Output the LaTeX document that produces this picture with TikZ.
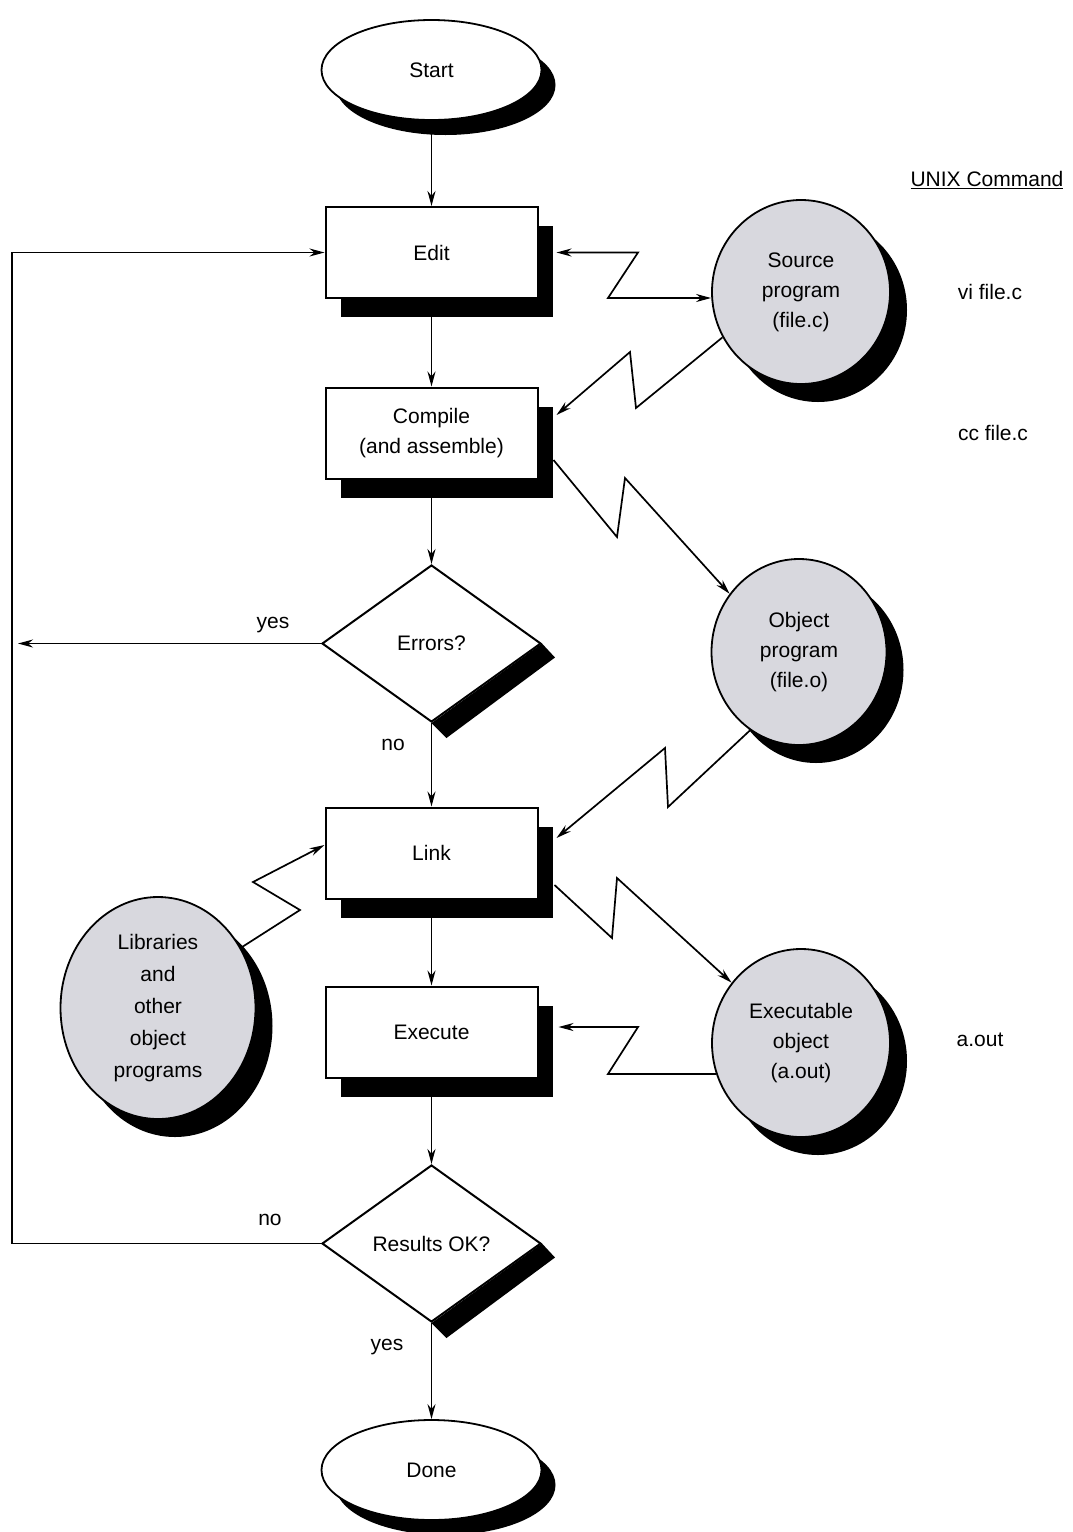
\documentclass[tikz,border=0pt]{standalone}
\usepackage{fontspec}
\setmainfont{Liberation Sans}
\usetikzlibrary{shapes.geometric,arrows.meta,shadows}
\definecolor{cgray}{RGB}{216,216,222}
\begin{document}
\begin{tikzpicture}[x=1pt,y=-1pt,
  every node/.style={font=\fontsize{21}{30}\selectfont, align=center, inner sep=0pt},
  box/.style={draw, line width=2pt, fill=white, minimum width=212pt, minimum height=91pt,
    drop shadow={shadow xshift=15pt, shadow yshift=-19pt, opacity=1, fill=black}},
  term/.style={ellipse, draw, line width=1.8pt, fill=white, minimum width=220pt, minimum height=100pt,
    drop shadow={shadow xshift=14pt, shadow yshift=-15pt, opacity=1, fill=black}},
  dec/.style={diamond, draw, line width=2pt, fill=white, minimum width=219pt, minimum height=157pt, aspect=1.4},
  store/.style={ellipse, draw, line width=1.8pt, fill=cgray,
    drop shadow={shadow xshift=17pt, shadow yshift=-18pt, opacity=1, fill=black}},
  arr/.style={line width=1.7pt, -{Stealth[length=15pt,width=8pt]}},
  arrb/.style={line width=1.7pt, {Stealth[length=15pt,width=8pt]}-{Stealth[length=15pt,width=8pt]}}
]
\fill[white] (0,0) rectangle (1073,1532);
\useasboundingbox (0,0) rectangle (1073,1532);

% main flow
\node[term] (start) at (431.5,70) {Start};
\node[box] (edit) at (431.5,252.5) {Edit};
\node[box] (comp) at (431.5,433) {Compile\\(and assemble)};
\node[dec] (err) at (431.5,643.5) {Errors?};
\node[box] (link) at (431.5,853) {Link};
\node[box] (exec) at (431.5,1032) {Execute};
\node[dec] (res) at (431.5,1243.5) {Results OK?};
\node[term] (done) at (431.5,1470) {Done};

% diamond shadows
\fill (err.east) -- ([shift={(13pt,-14pt)}]err.east) -- ([shift={(15pt,-15pt)}]err.south) -- (err.south) -- cycle;
\fill (res.east) -- ([shift={(13pt,-14pt)}]res.east) -- ([shift={(15pt,-15pt)}]res.south) -- (res.south) -- cycle;

% files
\node[store, minimum width=178pt, minimum height=184pt] (src) at (801,292) {Source\\program\\(file.c)};
\node[store, minimum width=175pt, minimum height=186pt] (obj) at (799,652) {Object\\program\\(file.o)};
\node[store, minimum width=178pt, minimum height=188pt] (exo) at (801,1043) {Executable\\object\\(a.out)};
\node[store, minimum width=195pt, minimum height=222pt, font=\fontsize{21}{32}\selectfont] (lib) at (158,1008) {Libraries\\and\\other\\object\\programs};

% labels
\node (yes1) at (273,625) {yes};
\node (no1) at (393,745) {no};
\node (no2) at (270,1220) {no};
\node (yes2) at (387,1347) {yes};
\node (unix) at (987,180) {\underline{UNIX Command}};
\node (c1) at (990,292) {vi file.c};
\node (c2) at (993,433) {cc file.c};
\node (c3) at (980,1040) {a.out};

% vertical flow
\draw[arr] (start) -- (edit);
\draw[arr] (edit) -- (comp);
\draw[arr] (comp) -- (err);
\draw[arr] (err) -- (link);
\draw[arr] (link) -- (exec);
\draw[arr] (exec) -- (res);
\draw[arr] (res) -- (done);

% yes / no branches
\coordinate (ye) at (18,643.5);
\draw[arr] (err.west) -- (ye);
\coordinate (lp) at (12,1243.5);
\draw[arr] (res.west) -- (lp) |- (edit.west);

% zigzag connectors
\draw[arrb] ([xshift=18pt]edit.east) -- (638,252.5) -- (608,298) -- (src.west |- {(608,298)});
\draw[arr] (src.210) -- (636,408) -- (630,352) -- ([shift={(18pt,18pt)}]comp.east);
\draw[arr] ([shift={(15pt,-27pt)}]comp.east) -- (617,537) -- (625,478) -- (obj.140);
\draw[arr] (obj.238) -- (668,807) -- (665,748) -- ([shift={(18pt,15pt)}]link.east);
\draw[arr] ([shift={(16pt,-32pt)}]link.east) -- (612,938) -- (617,878) -- (exo.139);
\draw[arr] (exo.200) -- ++(-108,0) -- (638,1027) -- ([shift={(20pt,5pt)}]exec.east);
\draw[arr] (lib.36) -- (300,910) -- (253,882) -- ([yshift=8pt]link.west);
\end{tikzpicture}
\end{document}
